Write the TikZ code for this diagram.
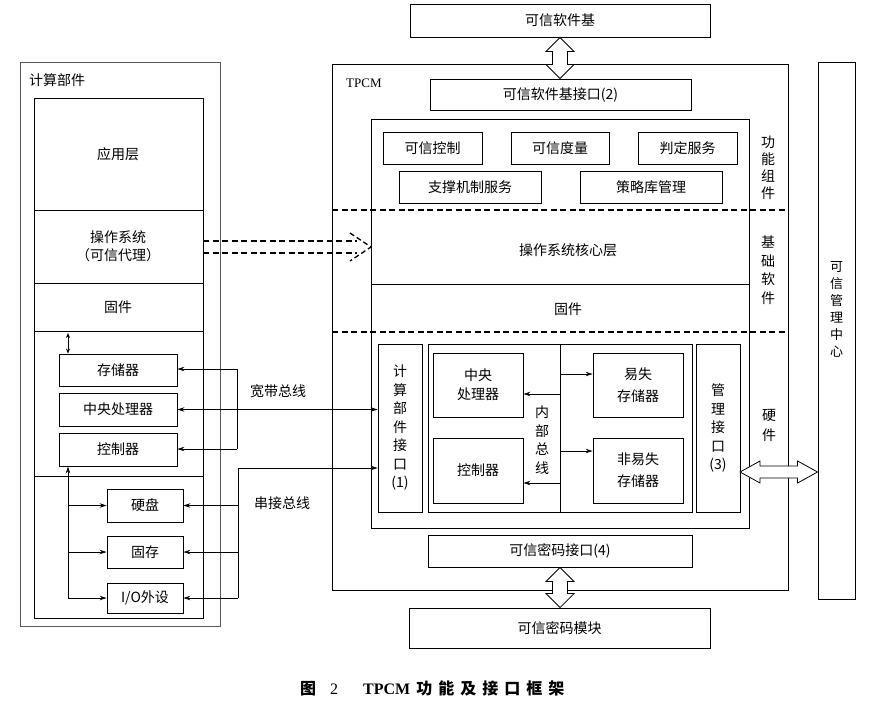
\documentclass[tikz,border=0pt]{standalone}
\usepackage{fontspec}
\setmainfont{Noto Sans CJK SC}
\newfontfamily\lat{Liberation Serif}
\usetikzlibrary{calc,arrows.meta}
\newcommand\fn{\fontsize{14}{16}\selectfont}
\newcommand\bx[7][]{\node[box,minimum width={(#5-#3)*1pt},minimum height={(#6-#4)*1pt},#1] (#2) at ({(#3+#5)/2},{(#4+#6)/2}) {#7};}
\newcommand\vda[2]{\draw[hol] let \p1=(#1), \p2=(#2) in (\x1,\y1) -- (\x1+14pt,\y1-14pt) -- (\x1+7.5pt,\y1-14pt) -- (\x1+7.5pt,\y2+14pt) -- (\x1+14pt,\y2+14pt) -- (\x1,\y2) -- (\x1-14pt,\y2+14pt) -- (\x1-7.5pt,\y2+14pt) -- (\x1-7.5pt,\y1-14pt) -- (\x1-14pt,\y1-14pt) -- cycle;}
\newcommand\hda[2]{\draw[hol] let \p1=(#1), \p2=(#2) in (\x1,\y1) -- (\x1+20pt,\y1+11pt) -- (\x1+20pt,\y1+6pt) -- (\x2-20pt,\y1+6pt) -- (\x2-20pt,\y1+11pt) -- (\x2,\y1) -- (\x2-20pt,\y1-11pt) -- (\x2-20pt,\y1-6pt) -- (\x1+20pt,\y1-6pt) -- (\x1+20pt,\y1-11pt) -- cycle;}
\tikzset{
  box/.style={draw,line width=0.9pt,inner sep=0pt,align=center,font=\fn},
  lbl/.style={inner sep=0pt,align=center,font=\fn},
  vt/.style={inner sep=0pt,align=center,font=\fontsize{14}{18.5}\selectfont},
  bus/.style={line width=0.7pt},
  arr/.style={bus,-{Stealth[length=7pt,width=4.5pt]}},
  arrb/.style={bus,{Stealth[length=7pt,width=4.5pt]}-{Stealth[length=7pt,width=4.5pt]}},
  hol/.style={draw,line width=0.8pt,fill=white},
  dsh/.style={dash pattern=on 6pt off 3.5pt,line width=1.3pt},
}
\begin{document}
\begin{tikzpicture}[x=1pt,y=-1pt]
\useasboundingbox[fill=white] (0,0) rectangle (873,705);

% ---------------- left: computing part ----------------
\bx[draw=black!65,line width=0.8pt]{lout}{20}{62}{220}{626}{}
\node[lbl,anchor=west] (loutl) at (29,80) {计算部件};
\bx{lin}{34}{98}{203}{618}{}
\draw[line width=0.9pt] (34,210) -- (203,210) (34,283) -- (203,283) (34,331) -- (203,331) (34,476) -- (203,476);
\node[lbl] (app) at (118,154) {应用层};
\node[lbl,font=\fontsize{14}{18}\selectfont] (osl) at (118,246) {操作系统\\（可信代理）};
\node[lbl] (fw) at (118,307) {固件};

\bx{mem}{59}{354}{177}{386}{存储器}
\bx{cpu}{59}{393}{177}{426}{中央处理器}
\bx{ctl}{59}{433}{177}{466}{控制器}
\bx{hd}{107}{489}{183}{522}{硬盘}
\bx{rom}{107}{536}{183}{568}{固存}
\bx{io}{107}{583}{183}{613}{I/O外设}

\coordinate (sa) at (68,333);
\draw[arrb,{Stealth[length=5pt,width=4pt]}-{Stealth[length=5pt,width=4pt]}] (sa) -- (mem.north -| sa);

\coordinate (lv) at (68,598);
\draw[arr] (lv) -- (ctl.south -| lv);
\draw[arr] (lv |- hd.west) -- (hd.west);
\draw[arr] (lv |- rom.west) -- (rom.west);
\draw[arr] (lv) -- (io.west);

% ---------------- TPCM ----------------
\bx[line width=1pt]{tpcm}{332}{64}{788}{590}{}
\node[inner sep=0pt,anchor=west,font=\lat\fontsize{13}{15}\selectfont] (tpcml) at (346,83) {TPCM};
\bx{tsb}{410}{4}{710}{37}{可信软件基}
\bx{tsbi}{430}{79}{691}{110}{可信软件基接口(2)}
\bx[line width=1pt]{tin}{371}{119}{749}{528}{}

\bx{f1}{383}{132}{482}{164}{可信控制}
\bx{f2}{511}{132}{609}{164}{可信度量}
\bx{f3}{638}{132}{737}{164}{判定服务}
\bx{f4}{399}{171}{541}{203}{支撑机制服务}
\bx{f5}{580}{171}{722}{203}{策略库管理}

\draw[dsh] (332,210) -- (788,210);
\draw[dsh] (332,332) -- (788,332);
\draw[line width=0.9pt] (371,284) -- (749,284);
\node[lbl] (oscore) at (568,250) {操作系统核心层};
\node[lbl] (tfw) at (568,309) {固件};

\node[lbl,font=\fontsize{14}{17}\selectfont] (s1) at (768,168) {功\\能\\组\\件};
\node[lbl,font=\fontsize{14}{18.5}\selectfont] (s2) at (768,270) {基\\础\\软\\件};
\node[lbl,font=\fontsize{14}{20}\selectfont] (s3) at (769,425) {硬\\件};

\bx{cif}{378}{344}{422}{512}{}
\node[vt] (cift) at (cif.center) {计\\算\\部\\件\\接\\口\\(1)};
\bx{hw}{428}{344}{692}{512}{}
\bx{mi}{696}{344}{740}{512}{}
\node[vt] (mit) at (mi.center) {管\\理\\接\\口\\(3)};
\draw[line width=0.9pt] (560,344) -- (560,512);
\bx[font=\fontsize{14}{19}\selectfont]{icpu}{433}{353}{523}{417}{中央\\处理器}
\bx{ictl}{433}{438}{523}{503}{控制器}
\bx[font=\fontsize{14}{22}\selectfont]{vol}{593}{353}{683}{417}{易失\\存储器}
\bx[font=\fontsize{14}{22}\selectfont]{nvol}{593}{438}{683}{503}{非易失\\存储器}
\node[vt] (ibt) at (542,440) {内\\部\\总\\线};
\coordinate (ib1) at (560,394);
\coordinate (ib2) at (560,483);
\coordinate (ib3) at (560,374);
\coordinate (ib4) at (560,451);
\draw[arr] (ib1) -- (icpu.east |- ib1);
\draw[arr] (ib2) -- (ictl.east |- ib2);
\draw[arr] (ib3) -- (vol.west |- ib3);
\draw[arr] (ib4) -- (nvol.west |- ib4);

\bx{tci}{428}{535}{692}{567}{可信密码接口(4)}
\bx{tcm}{409}{608}{710}{648}{可信密码模块}

% trusted management centre
\bx{tmc}{818}{62}{855}{599}{}
\node[lbl,font=\fontsize{13}{17}\selectfont] (tmct) at (836.5,309) {可\\信\\管\\理\\中\\心};

% hollow double arrows
\vda{tsb.south}{tsbi.north}
\vda{tci.south}{tcm.north}
\coordinate (ha1) at (740,472);
\hda{ha1}{tmc.west |- ha1}

% ---------------- buses ----------------
\coordinate (wb1) at (237,369);
\coordinate (wb2) at (237,449);
\draw[bus] (wb1) -- (wb2);
\draw[arr] (wb1) -- (mem.east |- wb1);
\draw[arr] (wb2) -- (ctl.east |- wb2);
\draw[arrb] (cpu.east) -- (cif.west |- cpu.east);
\node[lbl] (wbl) at (278,391) {宽带总线};

\coordinate (sb1) at (238,468);
\coordinate (sb2) at (238,598);
\draw[arr] (sb1) -- (cif.west |- sb1);
\draw[bus] (sb1) -- (sb2);
\draw[arr] (sb1 |- hd.east) -- (hd.east);
\draw[arr] (sb1 |- rom.east) -- (rom.east);
\draw[arr] (sb2) -- (io.east |- sb2);
\node[lbl] (sbl) at (282,503) {串接总线};

% dashed hollow arrow (OS agent -> TPCM)
\coordinate (da0) at (203,247);
\coordinate (da1) at (371,247);
\draw[dsh] ($(da0)+(0,-6)$) -- ($(da1)+(-14,-6)$)
           ($(da0)+(0,6)$) -- ($(da1)+(-14,6)$);
\draw[dsh,dash pattern=on 5pt off 3pt] ($(da1)+(-21,-14)$) -- (da1) -- ($(da1)+(-21,14)$);

% caption
\node[inner sep=0pt,anchor=west,font=\fontsize{16}{18}\selectfont] (cap) at (300,688)
  {{\bfseries 图}\hspace{14pt}{\lat 2}\hspace{25pt}{\lat\bfseries TPCM}\hspace{6pt}{\bfseries 功\hspace{6pt}能\hspace{6pt}及\hspace{6pt}接\hspace{6pt}口\hspace{6pt}框\hspace{6pt}架}};
\end{tikzpicture}
\end{document}
